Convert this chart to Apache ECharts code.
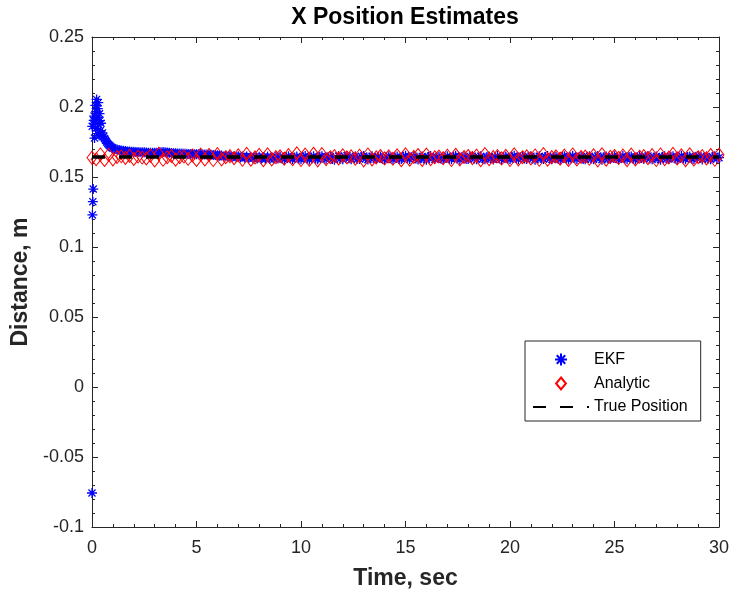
<!DOCTYPE html>
<html>
<head>
<meta charset="utf-8">
<script src="https://cdn.jsdelivr.net/npm/echarts@6/dist/echarts.min.js"></script>
<style>html,body{margin:0;padding:0;background:#fff}#c{width:730px;height:594px}</style>
</head>
<body>
<div id="c"></div>
<script>
// ---- data ----
const title = 'X Position Estimates';
const xName = 'Time, sec';
const yName = 'Distance, m';
const seriesNames = ['EKF', 'Analytic', 'True Position'];
const xTicks = [0, 5, 10, 15, 20, 25, 30];
const yTicks = [-0.1, -0.05, 0, 0.05, 0.1, 0.15, 0.2, 0.25];

// EKF: early samples (time, value)
const ekfEarlyT = [0, 0.01, 0.02, 0.04, 0.06, 0.08, 0.1, 0.12, 0.14, 0.16, 0.18, 0.2, 0.22, 0.24, 0.26, 0.28, 0.3, 0.32, 0.34, 0.36, 0.38, 0.4, 0.43, 0.46, 0.5, 0.55, 0.6, 0.65, 0.7, 0.75, 0.8, 0.85, 0.9, 0.95];
const ekfEarlyY = [-0.0757, 0.1862, 0.1229, 0.1324, 0.1414, 0.1905, 0.1935, 0.1778, 0.1899, 0.2012, 0.1846, 0.1968, 0.2054, 0.1925, 0.1810, 0.1988, 0.2031, 0.1874, 0.1797, 0.1952, 0.1903, 0.1831, 0.1884, 0.1802, 0.1815, 0.1790, 0.1775, 0.1762, 0.1750, 0.1740, 0.1731, 0.1724, 0.1717, 0.1711];
// EKF: samples every 0.1 s from t = 1.0 to 30.0
const ekfLateStart = 1.0;
const ekfStep = 0.1;
const ekfLateY = [
0.1706,0.1700,0.1696,0.1692,0.1689,0.1687,0.1685,0.1683,0.1682,0.1681,
0.1680,0.1679,0.1678,0.1677,0.1676,0.1676,0.1675,0.1674,0.1674,0.1673,
0.1673,0.1674,0.1675,0.1677,0.1678,0.1677,0.1675,0.1673,0.1671,0.1670,
0.1669,0.1668,0.1668,0.1667,0.1666,0.1666,0.1665,0.1665,0.1664,0.1663,
0.1663,0.1662,0.1662,0.1661,0.1661,0.1660,0.1659,0.1659,0.1658,0.1657,
0.1656,0.1651,0.1654,0.1647,0.1652,0.1645,0.1650,0.1643,0.1649,0.1641,
0.1648,0.1640,0.1646,0.1637,0.1647,0.1635,0.1645,0.1634,0.1644,0.1632,
0.1645,0.1631,0.1643,0.1629,0.1647,0.1630,0.1641,0.1628,0.1646,0.1633,
0.1646,0.1632,0.1627,0.1641,0.1649,0.1634,0.1628,0.1639,0.1647,0.1631,
0.1626,0.1643,0.1650,0.1633,0.1625,0.1640,0.1648,0.1630,0.1627,0.1645,
0.1649,0.1635,0.1626,0.1642,0.1646,0.1629,0.1624,0.1638,0.1650,0.1633,
0.1627,0.1644,0.1651,0.1634,0.1626,0.1641,0.1647,0.1630,0.1628,0.1646,
0.1650,0.1632,0.1625,0.1639,0.1648,0.1636,0.1629,0.1643,0.1647,0.1631,
0.1626,0.1642,0.1649,0.1633,0.1627,0.1640,0.1646,0.1629,0.1628,0.1645,
0.1651,0.1635,0.1626,0.1641,0.1648,0.1632,0.1625,0.1638,0.1647,0.1634,
0.1624,0.1643,0.1650,0.1636,0.1628,0.1642,0.1645,0.1630,0.1626,0.1639,
0.1648,0.1633,0.1627,0.1644,0.1651,0.1635,0.1624,0.1641,0.1646,0.1629,
0.1628,0.1645,0.1649,0.1632,0.1626,0.1639,0.1648,0.1631,0.1627,0.1643,
0.1647,0.1634,0.1625,0.1640,0.1650,0.1633,0.1628,0.1642,0.1646,0.1630,
0.1627,0.1644,0.1651,0.1635,0.1626,0.1641,0.1647,0.1632,0.1628,0.1645,
0.1649,0.1633,0.1624,0.1638,0.1648,0.1636,0.1629,0.1643,0.1650,0.1631,
0.1626,0.1642,0.1647,0.1630,0.1627,0.1644,0.1649,0.1634,0.1625,0.1640,
0.1651,0.1635,0.1628,0.1641,0.1646,0.1629,0.1626,0.1645,0.1648,0.1632,
0.1627,0.1639,0.1650,0.1636,0.1624,0.1642,0.1647,0.1631,0.1628,0.1644,
0.1649,0.1634,0.1626,0.1640,0.1651,0.1633,0.1627,0.1643,0.1646,0.1630,
0.1625,0.1641,0.1648,0.1635,0.1628,0.1645,0.1650,0.1632,0.1626,0.1639,
0.1647,0.1636,0.1624,0.1642,0.1649,0.1631,0.1629,0.1644,0.1648,0.1633,
0.1627,0.1640,0.1651,0.1634,0.1626,0.1643,0.1646,0.1630,0.1628,0.1645,
0.1650,0.1635,0.1625,0.1641,0.1647,0.1632,0.1627,0.1642,0.1649,0.1634,
0.1638
];

// Analytic: samples every 0.2 s from t = 0 to 30.0
const anaStart = 0;
const anaStep = 0.2;
const analyticY = [
0.1638,0.1627,0.1661,0.1622,0.1658,0.1626,0.1643,0.1648,0.1636,0.1651,
0.1629,0.1646,0.1639,0.1633,0.1653,0.1618,0.1666,0.1623,0.1641,0.1650,
0.1624,0.1642,0.1646,0.1630,0.1654,0.1622,0.1660,0.1625,0.1657,0.1621,
0.1663,0.1626,0.1641,0.1649,0.1634,0.1655,0.1623,0.1665,0.1624,0.1640,
0.1658,0.1620,0.1662,0.1626,0.1642,0.1648,0.1631,0.1656,0.1627,0.1669,
0.1621,0.1660,0.1624,0.1666,0.1619,0.1663,0.1628,0.1641,0.1649,0.1632,
0.1655,0.1639,0.1648,0.1631,0.1652,0.1619,0.1661,0.1625,0.1640,0.1650,
0.1633,0.1647,0.1630,0.1655,0.1620,0.1662,0.1624,0.1644,0.1657,0.1622,
0.1660,0.1627,0.1641,0.1646,0.1634,0.1652,0.1621,0.1659,0.1626,0.1643,
0.1650,0.1635,0.1653,0.1620,0.1664,0.1627,0.1642,0.1649,0.1633,0.1651,
0.1621,0.1662,0.1626,0.1641,0.1648,0.1632,0.1654,0.1623,0.1663,0.1624,
0.1642,0.1647,0.1631,0.1653,0.1622,0.1661,0.1625,0.1643,0.1646,0.1630,
0.1655,0.1619,0.1662,0.1624,0.1644,0.1650,0.1636,0.1654,0.1620,0.1660,
0.1625,0.1645,0.1649,0.1634,0.1656,0.1621,0.1661,0.1628,0.1639,0.1665,
0.1633,0.1655,0.1620,0.1662,0.1625,0.1641,0.1649,0.1632,0.1657,0.1623,
0.1659
];

// True position (constant)
const trueT = [0, 30];
const trueY = [0.1642, 0.1642];

// ---- build ----
const ekfData = ekfEarlyT.map((t, i) => [t, ekfEarlyY[i]])
  .concat(ekfLateY.map((v, i) => [+(ekfLateStart + i * ekfStep).toFixed(2), v]));
const anaData = analyticY.map((v, i) => [+(anaStart + i * anaStep).toFixed(2), v]);
const trueData = trueT.map((t, i) => [t, trueY[i]]);

const axisColor = '#262626';
const font = 'Liberation Sans, Arial, sans-serif';
const starPath = 'path://M10,0L10,20M0,10L20,10M2.93,2.93L17.07,17.07M2.93,17.07L17.07,2.93';
const diamondPath = 'path://M9,0L18,11L9,22L0,11Z';

const baseX = {
  type: 'value', min: xTicks[0], max: xTicks[xTicks.length - 1], interval: 5,
  axisLine: { show: true, onZero: false, lineStyle: { color: axisColor, width: 1 } },
  axisTick: { show: true, inside: true, length: 6, lineStyle: { color: axisColor } },
  minorTick: { show: true, splitNumber: 5, length: 3, lineStyle: { color: axisColor } },
  splitLine: { show: false }
};
const baseY = {
  type: 'value', min: yTicks[0], max: yTicks[yTicks.length - 1], interval: 0.05,
  axisLine: { show: true, onZero: false, lineStyle: { color: axisColor, width: 1 } },
  axisTick: { show: true, inside: true, length: 6, lineStyle: { color: axisColor } },
  minorTick: { show: true, splitNumber: 5, length: 3, lineStyle: { color: axisColor } },
  splitLine: { show: false }
};

const chart = echarts.init(document.getElementById('c'), null, { renderer: 'canvas' });
chart.setOption({
  animation: false,
  backgroundColor: '#fff',
  title: {
    text: title, left: 405, top: 6, textAlign: 'center', padding: 0,
    textStyle: { fontFamily: font, fontWeight: 'bold', fontSize: 23, color: '#000' }
  },
  grid: { left: 92, right: 11, top: 37, bottom: 67, containLabel: false, outerBoundsMode: 'none' },
  xAxis: [
    Object.assign({}, baseX, {
      position: 'bottom', name: xName, nameLocation: 'middle', nameGap: 40,
      nameTextStyle: { fontFamily: font, fontWeight: 'bold', fontSize: 23, color: axisColor },
      axisLabel: { show: true, margin: 12, fontFamily: font, fontSize: 18, color: axisColor }
    }),
    Object.assign({}, baseX, { position: 'top', axisLabel: { show: false } })
  ],
  yAxis: [
    Object.assign({}, baseY, {
      position: 'left', name: yName, nameLocation: 'middle', nameGap: 52,
      nameTextStyle: { fontFamily: font, fontWeight: 'bold', fontSize: 23, color: axisColor },
      axisLabel: { show: true, margin: 8, fontFamily: font, fontSize: 18, color: axisColor,
        formatter: v => String(+v.toFixed(2)) }
    }),
    Object.assign({}, baseY, { position: 'right', axisLabel: { show: false } })
  ],
  legend: {
    orient: 'vertical', left: 525, top: 341,
    padding: [10, 13, 6, 7], itemGap: 7, itemWidth: 56, itemHeight: 12,
    backgroundColor: '#fff', borderColor: axisColor, borderWidth: 1, borderRadius: 0,
    textStyle: { fontFamily: font, fontSize: 16, color: '#000', lineHeight: 16 },
    data: seriesNames
  },
  series: [
    {
      name: seriesNames[0], type: 'scatter', xAxisIndex: 0, yAxisIndex: 0,
      data: ekfData, symbol: starPath, symbolSize: 10,
      itemStyle: { color: 'none', borderColor: '#0000ff', borderWidth: 1.3, opacity: 1 },
      emphasis: { disabled: true }, z: 2
    },
    {
      name: seriesNames[1], type: 'scatter', xAxisIndex: 0, yAxisIndex: 0,
      data: anaData, symbol: diamondPath, symbolSize: [10, 13],
      itemStyle: { color: 'none', borderColor: '#ff0000', borderWidth: 1, opacity: 1 },
      emphasis: { disabled: true }, z: 3
    },
    {
      name: seriesNames[2], type: 'line', xAxisIndex: 0, yAxisIndex: 0,
      data: trueData, symbol: 'none', showSymbol: false,
      lineStyle: { color: '#000', width: 3.5, type: [13, 14] },
      itemStyle: { color: 'none', borderColor: 'none', borderWidth: 0 },
      emphasis: { disabled: true }, z: 4
    }
  ]
});
</script>
</body>
</html>
